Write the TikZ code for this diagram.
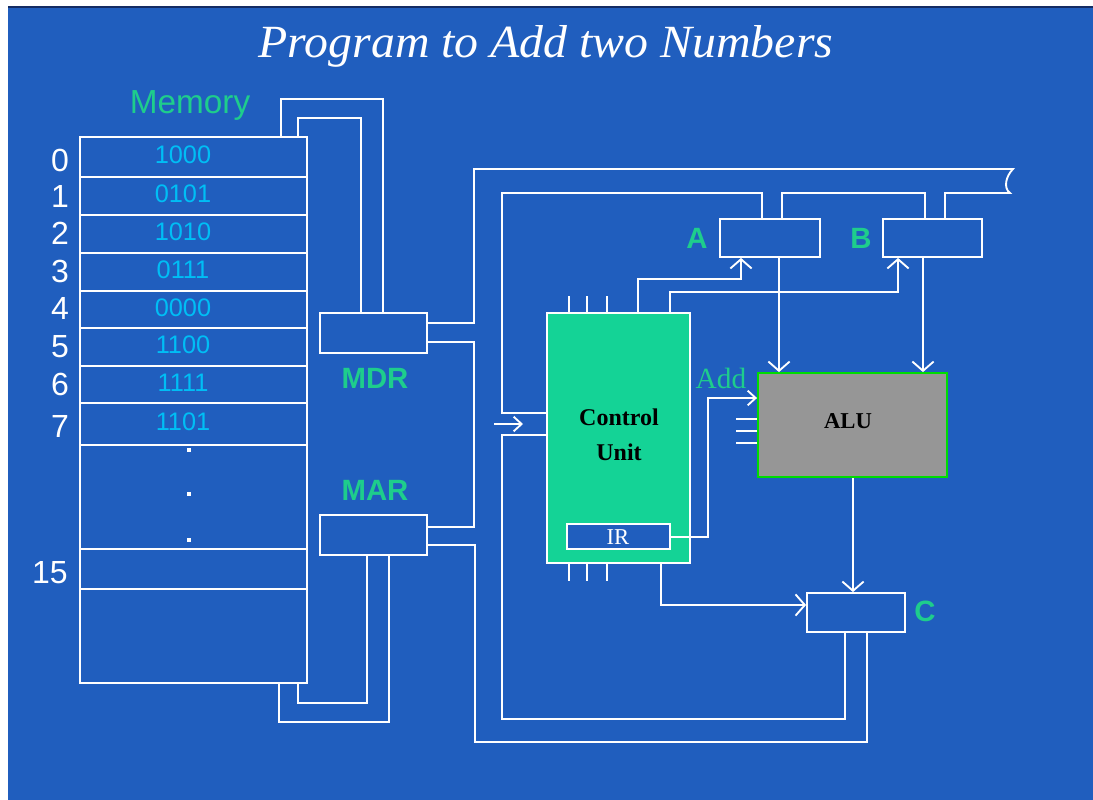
\documentclass[tikz,border=0pt]{standalone}
\usepackage{graphicx}
\usepackage{fontspec}
\setmainfont{Liberation Serif}
\setsansfont{Liberation Sans}
\usetikzlibrary{arrows.meta,fit,calc}
\definecolor{bg}{RGB}{32,94,190}
\definecolor{topline}{RGB}{20,45,100}
\definecolor{lbl}{RGB}{30,205,140}
\definecolor{cu}{RGB}{20,211,150}
\definecolor{val}{RGB}{0,190,245}
\definecolor{alug}{RGB}{150,150,150}
\definecolor{alub}{RGB}{0,220,0}
\begin{document}
\begin{tikzpicture}[x=0.75pt,y=-0.75pt,
  lw/.style={line width=1.4pt},
  wire/.style={draw=white, lw},
  arrbig/.style={wire, -{Straight Barb[length=7pt,width=16pt]}},
  arrsm/.style={wire, -{Straight Barb[length=6pt,width=11pt]}},
  box/.style={draw=white, lw, inner sep=0pt},
  memval/.style={text=val, font=\sffamily\fontsize{19}{19}\selectfont, inner sep=0pt},
  addr/.style={text=white, font=\sffamily\fontsize{24}{24}\selectfont, inner sep=0pt},
  glbl/.style={text=lbl, font=\sffamily\bfseries\fontsize{22}{22}\selectfont, inner sep=0pt},
  dotn/.style={fill=white, inner sep=0pt, minimum size=3pt},
]
\useasboundingbox (0,0) rectangle (1093,800);
\fill[white] (0,0) rectangle (1093,800);
\fill[bg] (8,6) rectangle (1093,800);
\draw[topline, line width=1.5pt] (8,7) -- (1093,7);

% title
\node[anchor=base, text=white, inner sep=0pt] (title) at (546,57) {\resizebox{431pt}{24pt}{\itshape Program to Add two Numbers}};

% memory
\node[text=lbl, font=\sffamily\fontsize{25}{25}\selectfont, inner sep=0pt] (memlbl) at (190,105) {Memory};
\node[box, fit={(80,137) (307,683)}] (mem) {};
\node[box, fit={(80,137) (307,177)}] (m0) {};
\node[box, fit={(80,177) (307,215)}] (m1) {};
\node[box, fit={(80,215) (307,253)}] (m2) {};
\node[box, fit={(80,253) (307,291)}] (m3) {};
\node[box, fit={(80,291) (307,328)}] (m4) {};
\node[box, fit={(80,328) (307,366)}] (m5) {};
\node[box, fit={(80,366) (307,403)}] (m6) {};
\node[box, fit={(80,403) (307,445)}] (m7) {};
\node[box, fit={(80,445) (307,549)}] (mdots) {};
\node[box, fit={(80,549) (307,589)}] (m15) {};
\node[box, fit={(80,589) (307,683)}] (mrest) {};

\node[memval] (v0) at (183,155) {1000};
\node[memval] (v1) at (183,194) {0101};
\node[memval] (v2) at (183,232) {1010};
\node[memval] (v3) at (183,270) {0111};
\node[memval] (v4) at (183,307.5) {0000};
\node[memval] (v5) at (183,345) {1100};
\node[memval] (v6) at (183,382.5) {1111};
\node[memval] (v7) at (183,422) {1101};

\node[addr] (a0) at (60,160) {0};
\node[addr] (a1) at (60,196) {1};
\node[addr] (a2) at (60,233) {2};
\node[addr] (a3) at (60,271) {3};
\node[addr] (a4) at (60,308) {4};
\node[addr] (a5) at (60,347) {5};
\node[addr] (a6) at (60,384) {6};
\node[addr] (a7) at (60,426) {7};
\node[addr] (a15) at (50,573) {15};

\node[dotn] (d1) at (189,450) {};
\node[dotn] (d2) at (189,494) {};
\node[dotn] (d3) at (189,540) {};

% registers
\node[box, fit={(320,313) (427,353)}] (MDR) {};
\node[box, fit={(320,515) (427,555)}] (MAR) {};
\node[glbl] (mdrl) at (375,378) {MDR};
\node[glbl] (marl) at (375,490) {MAR};

\node[box, fill=cu, fit={(547,313) (690,563)}] (CU) {};
\node[font=\bfseries\fontsize{18}{26}\selectfont, align=center, inner sep=0pt] (cutxt) at (619,435) {Control\\Unit};
\node[box, fill=bg, fit={(567,524) (670,549)}] (IR) {};
\node[text=white, font=\fontsize{17}{17}\selectfont, inner sep=0pt] (irt) at (618,537) {IR};

\node[draw=alub, line width=1.4pt, fill=alug, inner sep=0pt, fit={(758,373) (947,477)}] (ALU) {};
\node[font=\bfseries\fontsize{17}{17}\selectfont, inner sep=0pt] (alut) at (848,421) {ALU};

\node[box, fit={(720,219) (820,257)}] (A) {};
\node[box, fit={(883,219) (982,257)}] (B) {};
\node[box, fit={(807,593) (905,632)}] (C) {};
\node[glbl] (al) at (697,238) {A};
\node[glbl] (bl) at (861,238) {B};
\node[glbl] (cl) at (925,611) {C};

\node[text=lbl, font=\fontsize{22}{22}\selectfont, inner sep=0pt] (addl) at (721,378) {Add};

% memory <-> MDR
\draw[wire] (mem.north -| 281,0) |- (383,99) -- (MDR.north -| 383,0);
\draw[wire] (mem.north -| 298,0) |- (361,118) -- (MDR.north -| 361,0);
% memory <-> MAR
\draw[wire] (mem.south -| 298,0) |- (367,703) -- (MAR.south -| 367,0);
\draw[wire] (mem.south -| 279,0) |- (389,722) -- (MAR.south -| 389,0);

% bus from MDR
\draw[wire] (MDR.east |- 0,323) -| (474,169) -- (1013,169)
  .. controls (1006,176) and (1003,188) .. (1010,193) -| (B.north -| 945,0);
\draw[wire] (MDR.east |- 0,342) -| (474,527) -- (MAR.east |- 0,527);
\draw[wire] (MAR.east |- 0,545) -| (475,742) -| (C.south -| 867,0);

\draw[wire] (A.north -| 762,0) |- (502,193) |- (CU.west |- 0,413);
\draw[wire] (A.north -| 782,0) |- (925,193) -- (B.north -| 925,0);
\draw[wire] (C.south -| 845,0) |- (502,719) |- (CU.west |- 0,435);

% control
\draw[arrbig] (CU.north -| 638,0) |- (741,279) -- (A.south -| 741,0);
\draw[arrbig] (CU.north -| 670,0) |- (898,292) -- (B.south -| 898,0);
\draw[arrbig] (A.south -| 779,0) -- (ALU.north -| 779,0);
\draw[arrbig] (B.south -| 923,0) -- (ALU.north -| 923,0);
\draw[arrbig] (ALU.south -| 853,0) -- (C.north -| 853,0);
\draw[arrsm] (IR.east |- 0,537) -| (708,398) -- (ALU.west |- 0,398);
\draw[arrbig] (CU.south -| 661,0) |- (C.west |- 0,605);

\coordinate (fa1) at (494,424);
\coordinate (fa2) at (523,424);
\draw[arrsm] (fa1) -- (fa2);

% ticks
\foreach \x in {569,587,607} {
  \draw[wire] (CU.north -| \x,0) -- ++(0,-16);
  \draw[wire] (CU.south -| \x,0) -- ++(0,17);
}
\foreach \y in {419,431,443} {
  \draw[wire] (ALU.west |- 0,\y) -- ++(-21,0);
}
\end{tikzpicture}
\end{document}
